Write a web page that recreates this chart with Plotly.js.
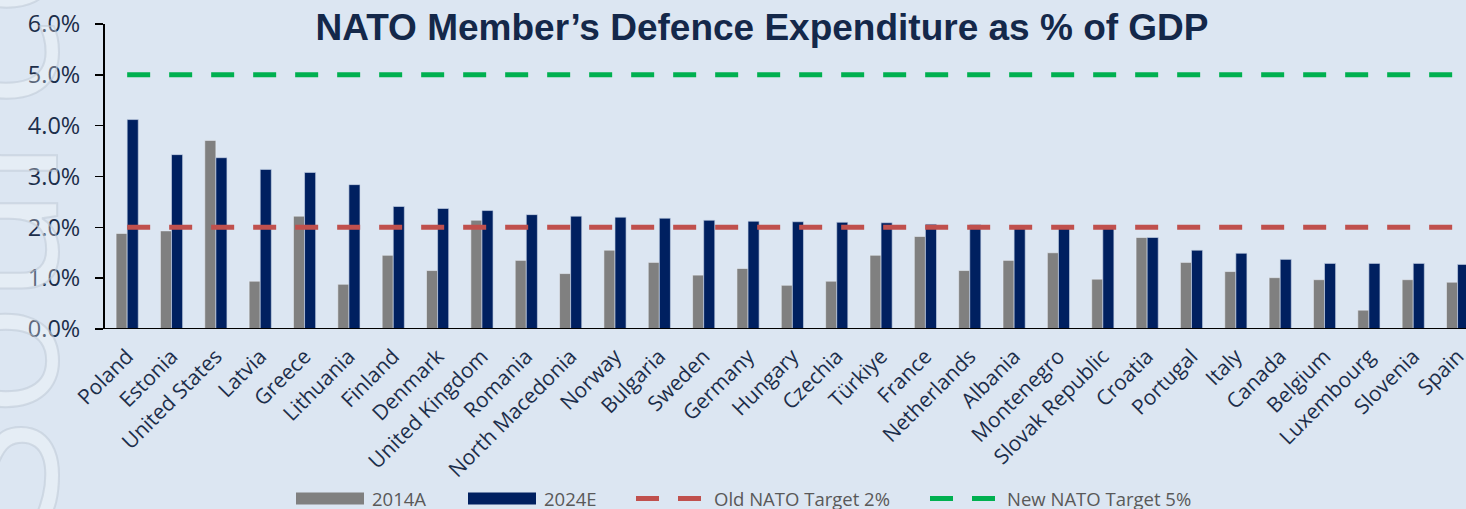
<!DOCTYPE html>
<html>
<head>
<meta charset="utf-8">
<script src="https://cdn.plot.ly/plotly-3.0.1.min.js"></script>
<style>
html,body{margin:0;padding:0;background:#dce6f2;overflow:hidden;}
#wrap{position:relative;width:1466px;height:509px;overflow:hidden;}
#chart{width:1466px;height:509px;}
#wm{position:absolute;left:-111px;top:522px;transform-origin:0 0;transform:rotate(-90deg);
    font-family:"Open Sans",sans-serif;font-size:190px;line-height:1;white-space:nowrap;
    color:rgba(255,255,255,0.28);-webkit-text-stroke:2px rgba(190,200,214,0.55);pointer-events:none;}
</style>
</head>
<body>
<div id="wrap">
<div id="chart"></div>
<div id="wm">Source</div>
</div>
<script>
const countries = ["Poland","Estonia","United States","Latvia","Greece","Lithuania","Finland","Denmark","United Kingdom","Romania","North Macedonia","Norway","Bulgaria","Sweden","Germany","Hungary","Czechia","Türkiye","France","Netherlands","Albania","Montenegro","Slovak Republic","Croatia","Portugal","Italy","Canada","Belgium","Luxembourg","Slovenia","Spain"];
const values2014 = [1.88,1.93,3.71,0.94,2.22,0.88,1.45,1.15,2.14,1.35,1.09,1.55,1.31,1.06,1.19,0.86,0.94,1.45,1.82,1.15,1.35,1.50,0.98,1.80,1.31,1.13,1.01,0.97,0.37,0.97,0.92];
const values2024 = [4.12,3.43,3.37,3.14,3.08,2.84,2.41,2.37,2.33,2.25,2.22,2.20,2.18,2.14,2.12,2.11,2.10,2.09,2.06,2.05,2.03,2.02,2.00,1.80,1.55,1.49,1.37,1.29,1.29,1.29,1.27];
const seriesNames = ["2014A","2024E","Old NATO Target 2%","New NATO Target 5%"];
const seriesColors = ["#808080","#002060","#c0504d","#00b050"];
const oldTarget = 2.0;
const newTarget = 5.0;
const yTicks = [0,1,2,3,4,5,6];
const yTickLabels = ["0.0%","1.0%","2.0%","3.0%","4.0%","5.0%","6.0%"];

const W = 1466, H = 509, ML = 105, MT = 24, MB = 180;
const PW = W - ML, PH = H - MT - MB;
const px = v => (v - ML) / PW;          // page px -> paper x
const py = v => (H - MB - v) / PH;      // page px -> paper y

const ends = [countries[0], countries[countries.length-1]];
const traces = [
  {type:"bar", name:seriesNames[0], x:countries, y:values2014,
   marker:{color:seriesColors[0], line:{color:"rgba(235,240,248,0.7)", width:0.8}}},
  {type:"bar", name:seriesNames[1], x:countries, y:values2024,
   marker:{color:seriesColors[1], line:{color:"rgba(200,212,232,0.8)", width:0.8}}},
  {type:"scatter", mode:"lines", name:seriesNames[2], x:ends, y:[oldTarget,oldTarget],
   line:{color:seriesColors[2], width:5, dash:"23px,19px"}},
  {type:"scatter", mode:"lines", name:seriesNames[3], x:ends, y:[newTarget,newTarget],
   line:{color:seriesColors[3], width:5, dash:"23px,19px"}}
];

// custom legend (symbols + real text)
const legendItems = [
  {kind:"rect", x0:296, x1:364, tx:371},
  {kind:"rect", x0:468, x1:536, tx:543},
  {kind:"dash", x0:636, x1:701, tx:713},
  {kind:"dash", x0:930, x1:995, tx:1006}
];
const legY = 498;
const shapes = [{type:"line", xref:"paper", yref:"y", x0:px(97), x1:1, y0:0, y1:0, line:{color:"#000", width:2}}];
const annotations = [];
legendItems.forEach((it, i) => {
  if (it.kind === "rect") {
    shapes.push({type:"rect", xref:"paper", yref:"paper", x0:px(it.x0), x1:px(it.x1), y0:py(legY-5.5), y1:py(legY+6.5),
                 fillcolor:seriesColors[i], line:{width:0}});
  } else {
    shapes.push({type:"line", xref:"paper", yref:"paper", x0:px(it.x0), x1:px(it.x0+23), y0:py(legY+0.5), y1:py(legY+0.5),
                 line:{color:seriesColors[i], width:5}});
    shapes.push({type:"line", xref:"paper", yref:"paper", x0:px(it.x1-23), x1:px(it.x1), y0:py(legY+0.5), y1:py(legY+0.5),
                 line:{color:seriesColors[i], width:5}});
  }
  annotations.push({text:seriesNames[i], xref:"paper", yref:"paper", x:px(it.tx), y:py(legY), xanchor:"left", yanchor:"middle",
                    borderpad:0, showarrow:false, font:{size:18.5, color:"#595959", family:"Open Sans, sans-serif"}});
});

const layout = {
  width:W, height:H,
  paper_bgcolor:"rgba(0,0,0,0)", plot_bgcolor:"rgba(0,0,0,0)",
  margin:{l:ML, r:0, t:MT, b:MB, pad:0, autoexpand:false},
  barmode:"group", bargap:0.5, bargroupgap:0,
  font:{family:"Open Sans, sans-serif", color:"#1c2e4a"},
  title:{text:"NATO Member’s Defence Expenditure as % of GDP",
         font:{family:"Liberation Sans, Arial, sans-serif", size:37, color:"#14284a", weight:"bold"},
         x:(762/W), xanchor:"center", y:1-(27/H), yanchor:"middle"},
  xaxis:{type:"category", range:[-0.5,30.19], tickangle:-45, showline:false, ticks:"", automargin:false,
         tickfont:{size:21, color:"#1c2e4a"}, showgrid:false, zeroline:false, fixedrange:true, ticklabelstandoff:10},
  yaxis:{range:[0,6], tickvals:yTicks, ticktext:yTickLabels, ticks:"outside", ticklen:8, tickwidth:1.5, automargin:false,
         tickcolor:"#000", showline:true, linecolor:"#000", linewidth:2, showgrid:false, zeroline:false,
         tickfont:{size:23.5, color:"#1c2e4a"}, fixedrange:true, ticklabelstandoff:10},
  shapes:shapes,
  annotations:annotations,
  showlegend:false
};
Plotly.newPlot("chart", traces, layout, {displayModeBar:false, staticPlot:true});
</script>
</body>
</html>
